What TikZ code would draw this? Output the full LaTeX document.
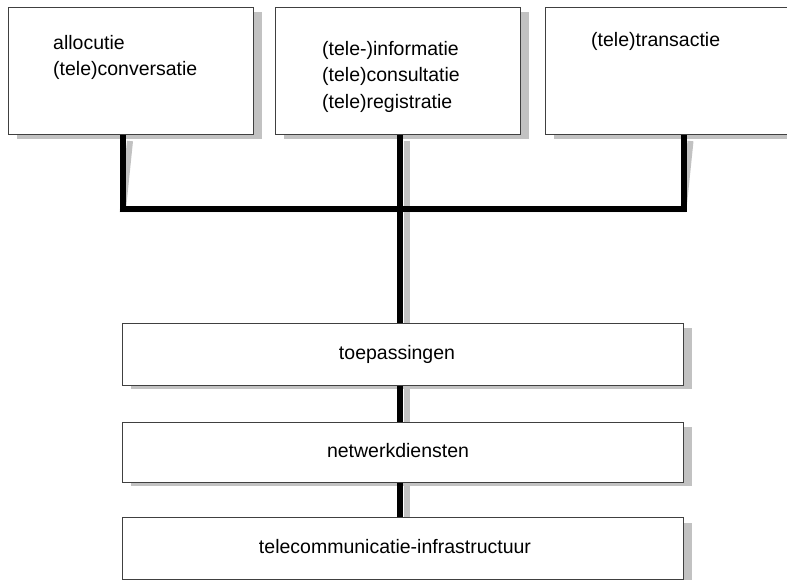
\documentclass[tikz,border=0pt]{standalone}
\usepackage{fontspec}
\setmainfont{Liberation Sans}
\begin{document}
\begin{tikzpicture}[x=1pt,y=-1pt,
  box/.style={draw=black!75, line width=0.8pt, fill=white, rectangle, anchor=north west, inner sep=0pt},
  boxshadow/.style={fill=black!24, draw=none},
  conn/.style={line width=6pt, black},
  connshadow/.style={line width=6pt, black!24},
  lbl/.style={font=\fontsize{19.5}{26.5}\selectfont, align=left, inner sep=0pt},
]
\clip (0,0) rectangle (787,579);
\fill[white] (0,0) rectangle (787,579);

% junction points of the thick connector tree
\coordinate (jl) at (123,209);
\coordinate (jm) at (400,209);
\coordinate (jr) at (683.5,209);

% shadows of the boxes
\fill[boxshadow] (17,12) rectangle (262,139);
\fill[boxshadow] (284,12) rectangle (529,139);
\fill[boxshadow] (554,12) rectangle (810,139);
\fill[boxshadow] (131,328) rectangle (692,389);
\fill[boxshadow] (131,427) rectangle (692,486);
\fill[boxshadow] (131,523) rectangle (692,590);

% shadows of the connectors
\begin{scope}[xshift=7pt, yshift=-5pt]
  \draw[connshadow] (123,136) -- (jl) -- (jr) -- (683.5,136);
  \draw[connshadow] (400,136) -- (400,518);
\end{scope}

% top row
\node[box, minimum width=245, minimum height=127] (b1) at (8,7) {};
\node[box, minimum width=245, minimum height=127] (b2) at (275,7) {};
\node[box, minimum width=260, minimum height=127] (b3) at (545,7) {};

\node[lbl, anchor=north west] (t1) at (53,35) {allocutie\\(tele)conversatie};
\node[lbl, anchor=north west] (t2) at (322,41) {(tele-)informatie\\(tele)consultatie\\(tele)registratie};
\node[lbl, anchor=north west] (t3) at (591,32) {(tele)transactie};

% layer boxes
\node[box, minimum width=561, minimum height=62] (toep) at (122,323) {};
\node[box, minimum width=561, minimum height=60] (netw) at (122,422) {};
\node[box, minimum width=561, minimum height=62] (infra) at (122,517) {};

\node[lbl] (l1) at (397,354) {toepassingen};
\node[lbl] (l2) at (398,451) {netwerkdiensten};
\node[lbl] (l3) at (395,547) {telecommunicatie-infrastructuur};

% thick connectors
\draw[conn] (b1.south -| jl) -- (jl) -- (jr) -- (b3.south -| jr);
\draw[conn] (b2.south -| jm) -- (toep.north -| jm);
\draw[conn] (toep.south -| jm) -- (netw.north -| jm);
\draw[conn] (netw.south -| jm) -- (infra.north -| jm);
\end{tikzpicture}
\end{document}
